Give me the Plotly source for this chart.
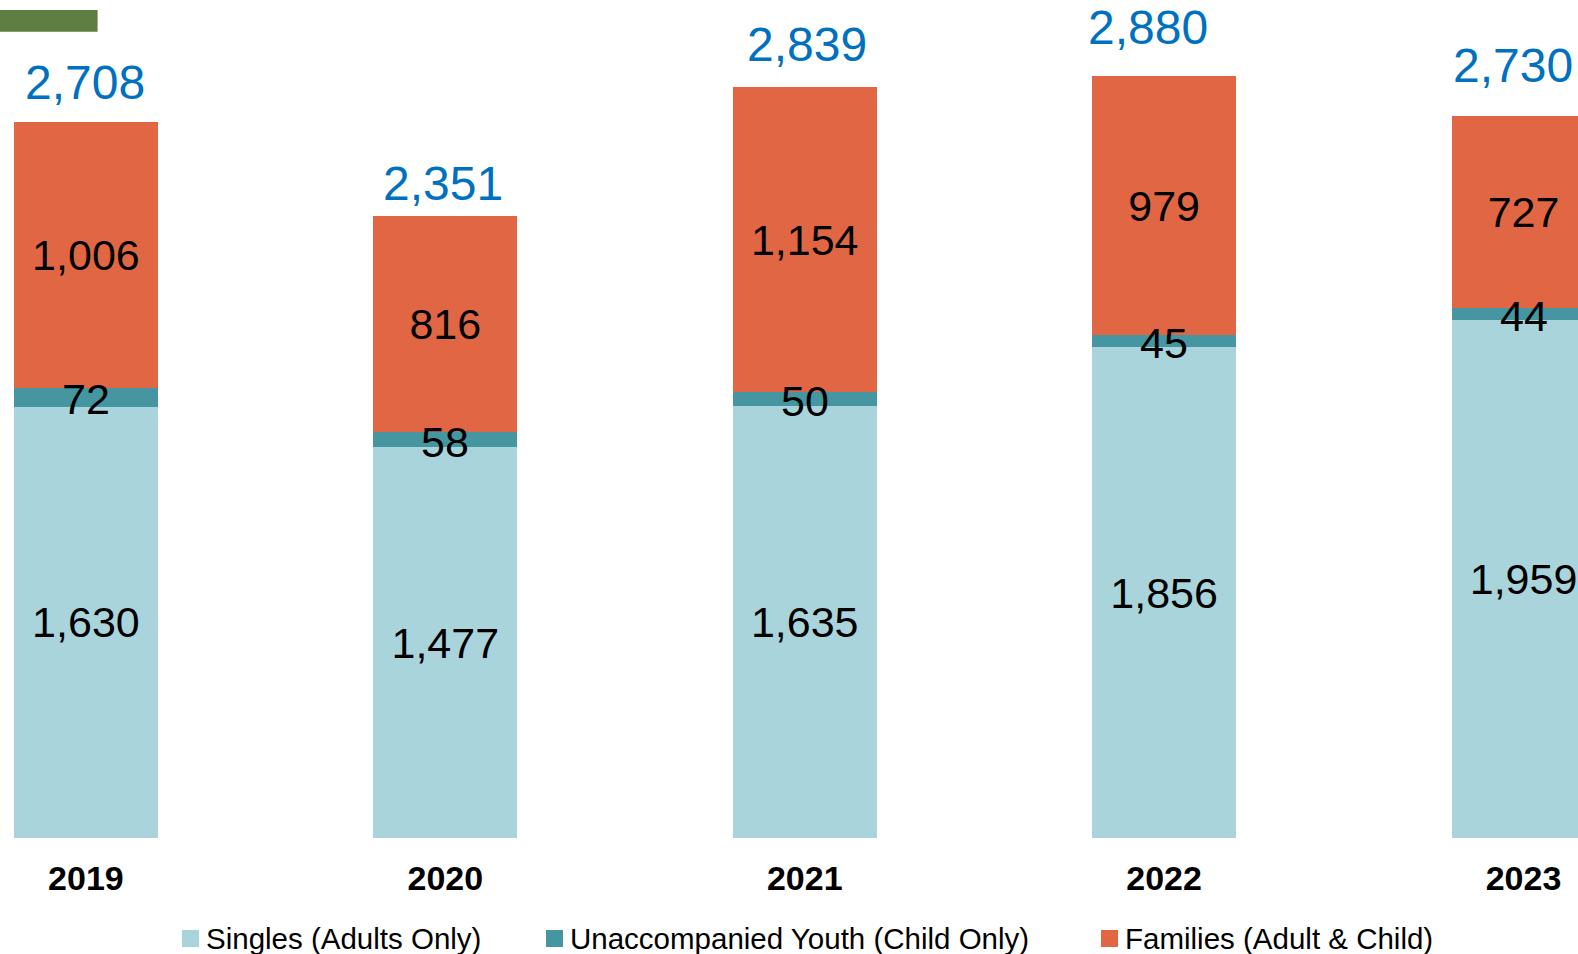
import plotly.graph_objects as go

years = ["2019", "2020", "2021", "2022", "2023"]
singles = [1630, 1477, 1635, 1856, 1959]
youth = [72, 58, 50, 45, 44]
families = [1006, 816, 1154, 979, 727]
totals = [2708, 2351, 2839, 2880, 2730]

series_names = ["Singles (Adults Only)", "Unaccompanied Youth (Child Only)", "Families (Adult & Child)"]
colors = ["#AAD4DB", "#4596A0", "#E16744"]

# label offsets (pixels) of the total labels as placed in the original
total_yshift = [39, 33, 43, 49, 50]
total_xshift = [-1, -2, 2, -16, -11]

W, H = 1578, 954
label_font = dict(family="Liberation Sans, Arial, sans-serif", size=43, color="black")

fig = go.Figure()
for name, vals, col in zip(series_names, [singles, youth, families], colors):
    show_text = vals is not youth
    fig.add_trace(go.Bar(
        x=years, y=vals, name=name, marker=dict(color=col, line=dict(width=0)),
        text=[f"{v:,}" for v in vals] if show_text else None,
        textposition="inside" if show_text else "none", insidetextanchor="middle",
        textangle=0, constraintext="none", textfont=label_font,
        hoverinfo="skip", showlegend=False,
    ))

# youth labels drawn above all bars (they overflow the thin segment)
for i, (s, y) in enumerate(zip(singles, youth)):
    fig.add_annotation(x=i, y=s + y / 2, text=f"{y:,}", showarrow=False, xref="x", yref="y",
                       yanchor="middle", yshift=-2, font=label_font)

for i, t in enumerate(totals):
    fig.add_annotation(x=i, y=t, text=f"{t:,}", showarrow=False, xref="x", yref="y",
                       yanchor="middle", yshift=total_yshift[i], xshift=total_xshift[i],
                       font=dict(family="Liberation Sans, Arial, sans-serif", size=48, color="#0070C0"))

# decorative green bar at top-left
fig.add_shape(type="rect", xref="paper", yref="paper", x0=0, x1=97.6 / W,
              y0=1 - 31.7 / H, y1=1 - 10 / H, fillcolor="#5F7E42", line=dict(width=0), layer="above")

# legend (custom, to match swatch size and spacing)
legend_sq_left = [182, 546, 1101]
sq = 17
legend_cy = 938.5
for name, col, x0 in zip(series_names, colors, legend_sq_left):
    fig.add_shape(type="rect", xref="paper", yref="paper", x0=x0 / W, x1=(x0 + sq) / W,
                  y0=1 - (legend_cy + sq / 2) / H, y1=1 - (legend_cy - sq / 2) / H,
                  fillcolor=col, line=dict(width=0))
    fig.add_annotation(x=(x0 + sq + 5) / W, y=1 - legend_cy / H, xref="paper", yref="paper",
                       text=name, showarrow=False, xanchor="left", yanchor="middle",
                       font=dict(family="Liberation Sans, Arial, sans-serif", size=29.5, color="black"))

fig.update_layout(
    width=W, height=H, barmode="stack", bargap=0.6,
    margin=dict(l=0, r=0, t=0, b=0, pad=0),
    plot_bgcolor="white", paper_bgcolor="white",
    xaxis=dict(type="category", range=[-0.239, 4.1516], showgrid=False, showline=False,
               zeroline=False, automargin=False,
               ticks="outside", ticklen=10, tickcolor="rgba(0,0,0,0)",
               tickfont=dict(family="Liberation Sans, Arial, sans-serif", size=34, color="black",
                             weight="bold"), fixedrange=True),
    yaxis=dict(range=[0, 3168], domain=[116 / H, 1], visible=False, showgrid=False,
               zeroline=False, automargin=False, fixedrange=True),
    showlegend=False,
)
fig.write_html("out.html", config={"displayModeBar": False},
               post_script="document.body.style.margin='0';document.body.style.overflow='hidden';")
